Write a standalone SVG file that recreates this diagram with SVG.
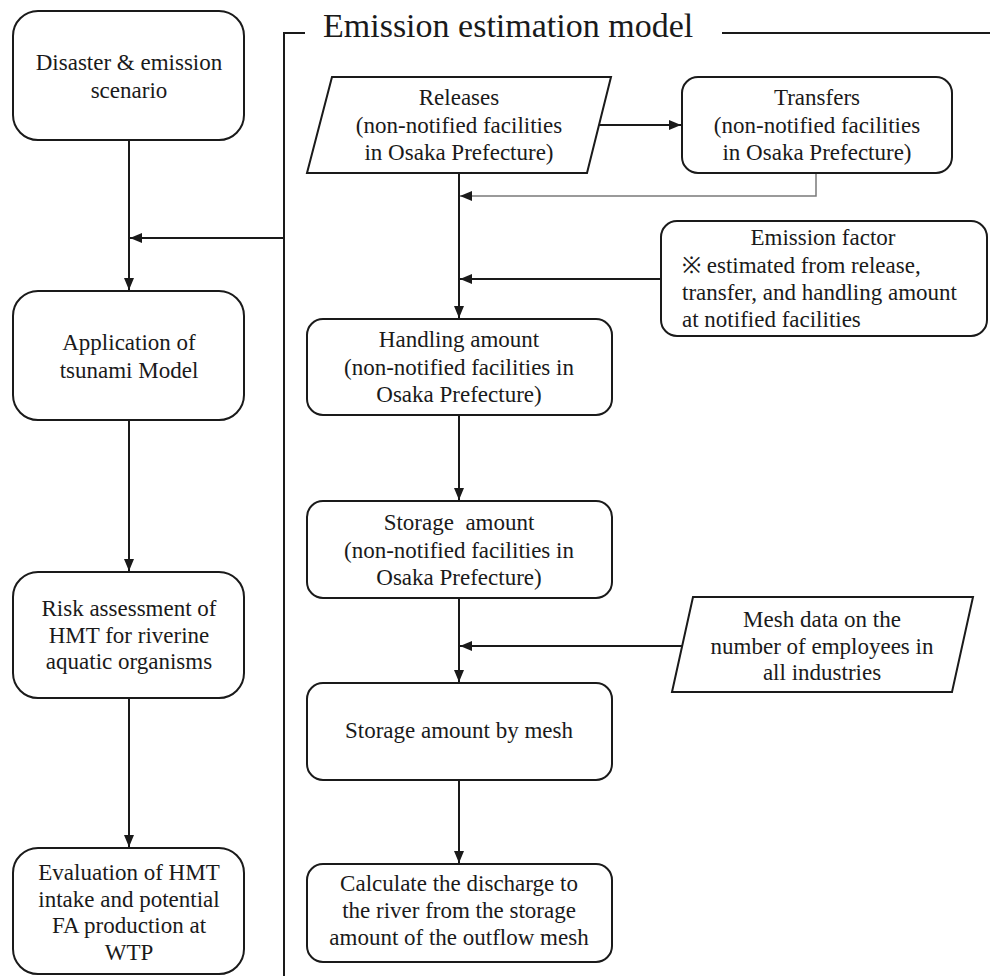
<svg xmlns="http://www.w3.org/2000/svg" width="990" height="976" viewBox="0 0 990 976" font-family="Liberation Serif, DejaVu Serif, serif">
<defs>
<style>
.box{fill:#fff;stroke:#1a1a1a;stroke-width:2}
.ln{fill:none;stroke:#1a1a1a;stroke-width:2}
.gl{fill:none;stroke:#7a7a7a;stroke-width:1.5}
.t{font-size:23px;fill:#1a1a1a;text-anchor:middle}
.tl{text-anchor:start}
.title{font-size:34px;fill:#1a1a1a}
</style>
<marker id="ah" viewBox="0 0 12 10" refX="12" refY="5" markerWidth="12" markerHeight="10" markerUnits="userSpaceOnUse" orient="auto">
<path d="M0,0 L12,5 L0,10 z" fill="#1a1a1a"/>
</marker>
</defs>
<rect width="990" height="976" fill="#fff"/>

<g id="frame">
<path class="ln" d="M305,33 H284 V976"/>
<path class="ln" d="M722,33 H990"/>
<text class="title" x="323" y="37" font-family="Liberation Serif, serif">Emission estimation model</text>
</g>

<g id="connectors">
<line class="ln" x1="129" y1="140" x2="129" y2="290" marker-end="url(#ah)"/>
<line class="ln" x1="284" y1="238" x2="130" y2="238" marker-end="url(#ah)"/>
<line class="ln" x1="129" y1="420" x2="129" y2="571" marker-end="url(#ah)"/>
<line class="ln" x1="129" y1="698" x2="129" y2="847" marker-end="url(#ah)"/>
<line class="ln" x1="599" y1="125" x2="681" y2="125" marker-end="url(#ah)"/>
<line class="ln" x1="459" y1="173" x2="459" y2="318" marker-end="url(#ah)"/>
<path class="gl" d="M816,173 V196 H460" marker-end="url(#ah)"/>
<line class="ln" x1="661" y1="279" x2="460" y2="279" marker-end="url(#ah)"/>
<line class="ln" x1="459" y1="415" x2="459" y2="500" marker-end="url(#ah)"/>
<line class="ln" x1="459" y1="598" x2="459" y2="682" marker-end="url(#ah)"/>
<line class="ln" x1="682" y1="646" x2="460" y2="646" marker-end="url(#ah)"/>
<line class="ln" x1="459" y1="780" x2="459" y2="863" marker-end="url(#ah)"/>
</g>

<g id="disaster">
<rect class="box" x="13" y="11" width="231" height="129" rx="25"/>
<text class="t" x="129" y="70">Disaster &amp; emission</text>
<text class="t" x="129" y="98">scenario</text>
</g>
<g id="tsunami">
<rect class="box" x="13" y="291" width="231" height="129" rx="25"/>
<text class="t" x="129" y="350">Application of</text>
<text class="t" x="129" y="378">tsunami Model</text>
</g>
<g id="risk">
<rect class="box" x="13" y="572" width="231" height="126" rx="25"/>
<text class="t" x="129" y="616">Risk assessment of</text>
<text class="t" x="129" y="643">HMT for riverine</text>
<text class="t" x="129" y="669">aquatic organisms</text>
</g>
<g id="evaluation">
<rect class="box" x="13" y="848" width="231" height="126" rx="25"/>
<text class="t" x="129" y="880">Evaluation of HMT</text>
<text class="t" x="129" y="907">intake and potential</text>
<text class="t" x="129" y="933">FA production at</text>
<text class="t" x="129" y="960">WTP</text>
</g>

<g id="releases">
<polygon class="box" points="332,77 611,77 587,173 307,173"/>
<text class="t" x="459" y="105">Releases</text>
<text class="t" x="459" y="133">(non-notified facilities</text>
<text class="t" x="459" y="160">in Osaka Prefecture)</text>
</g>
<g id="transfers">
<rect class="box" x="682" y="77" width="270" height="96" rx="16"/>
<text class="t" x="817" y="105">Transfers</text>
<text class="t" x="817" y="133">(non-notified facilities</text>
<text class="t" x="817" y="160">in Osaka Prefecture)</text>
</g>
<g id="emission-factor">
<rect class="box" x="661" y="221" width="326" height="115" rx="16"/>
<text class="t" x="823" y="245">Emission factor</text>
<text class="t tl" x="682" y="273">※ estimated from release,</text>
<text class="t tl" x="682" y="300">transfer, and handling amount</text>
<text class="t tl" x="682" y="327">at notified facilities</text>
</g>
<g id="handling">
<rect class="box" x="307" y="319" width="305" height="96" rx="16"/>
<text class="t" x="459" y="347">Handling amount</text>
<text class="t" x="459" y="375">(non-notified facilities in</text>
<text class="t" x="459" y="402">Osaka Prefecture)</text>
</g>
<g id="storage">
<rect class="box" x="307" y="501" width="305" height="97" rx="16"/>
<text class="t" x="459" y="530" xml:space="preserve">Storage  amount</text>
<text class="t" x="459" y="558">(non-notified facilities in</text>
<text class="t" x="459" y="585">Osaka Prefecture)</text>
</g>
<g id="mesh-data">
<polygon class="box" points="693,597 973,597 952,692 672,692"/>
<text class="t" x="822" y="627">Mesh data on the</text>
<text class="t" x="822" y="654">number of employees in</text>
<text class="t" x="822" y="680">all industries</text>
</g>
<g id="storage-mesh">
<rect class="box" x="307" y="683" width="305" height="97" rx="16"/>
<text class="t" x="459" y="738">Storage amount by mesh</text>
</g>
<g id="discharge">
<rect class="box" x="307" y="864" width="305" height="98" rx="16"/>
<text class="t" x="459" y="891">Calculate the discharge to</text>
<text class="t" x="459" y="918">the river from the storage</text>
<text class="t" x="459" y="945">amount of the outflow mesh</text>
</g>
</svg>
